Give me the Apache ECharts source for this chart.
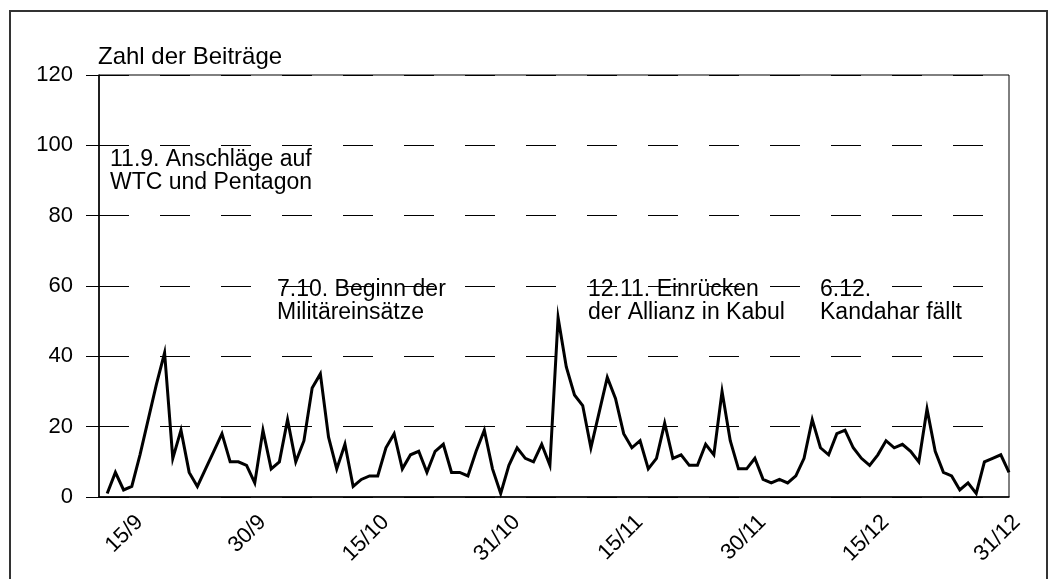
<!DOCTYPE html>
<html>
<head>
<meta charset="utf-8">
<script src="https://cdn.jsdelivr.net/npm/echarts@6/dist/echarts.min.js"></script>
<style>
html,body{margin:0;padding:0;background:#fff;}
#chart{width:1054px;height:579px;}
</style>
</head>
<body>
<div id="chart"></div>
<script>
// Days from 11/9 to 31/12
const categories = [
  '11/9','12/9','13/9','14/9','15/9','16/9','17/9','18/9','19/9','20/9','21/9','22/9','23/9','24/9','25/9','26/9','27/9','28/9','29/9','30/9',
  '1/10','2/10','3/10','4/10','5/10','6/10','7/10','8/10','9/10','10/10','11/10','12/10','13/10','14/10','15/10','16/10','17/10','18/10','19/10','20/10',
  '21/10','22/10','23/10','24/10','25/10','26/10','27/10','28/10','29/10','30/10','31/10',
  '1/11','2/11','3/11','4/11','5/11','6/11','7/11','8/11','9/11','10/11','11/11','12/11','13/11','14/11','15/11','16/11','17/11','18/11','19/11','20/11',
  '21/11','22/11','23/11','24/11','25/11','26/11','27/11','28/11','29/11','30/11',
  '1/12','2/12','3/12','4/12','5/12','6/12','7/12','8/12','9/12','10/12','11/12','12/12','13/12','14/12','15/12','16/12','17/12','18/12','19/12','20/12',
  '21/12','22/12','23/12','24/12','25/12','26/12','27/12','28/12','29/12','30/12','31/12'
];
const beitraege = [
  null, 1, 7, 2, 3, 12, 22, 32, 41, 11, 19, 7, 3, 8, 13, 18, 10, 10, 9, 4,
  19, 8, 10, 22, 10, 16, 31, 35, 17, 8, 15, 3, 5, 6, 6, 14, 18, 8, 12, 13,
  7, 13, 15, 7, 7, 6, 13, 19, 8, 1, 9,
  14, 11, 10, 15, 9, 51, 37, 29, 26, 14, 24, 34, 28, 18, 14, 16, 8, 11, 21, 11,
  12, 9, 9, 15, 12, 30, 16, 8, 8, 11,
  5, 4, 5, 4, 6, 11, 22, 14, 12, 18, 19, 14, 11, 9, 12, 16, 14, 15, 13, 10,
  25, 13, 7, 6, 2, 4, 1, 10, 11, 12, 7
];
const tickLabels = ['15/9','30/9','15/10','31/10','15/11','30/11','15/12','31/12'];
const yTicks = [0, 20, 40, 60, 80, 100, 120];
const yTitle = 'Zahl der Beiträge';
const annotations = [
  '11.9. Anschläge auf\nWTC und Pentagon',
  '7.10. Beginn der\nMilitäreinsätze',
  '12.11. Einrücken\nder Allianz in Kabul',
  '6.12.\nKandahar fällt'
];

const FONT = '"Liberation Sans", Arial, sans-serif';
const chart = echarts.init(document.getElementById('chart'), null, {renderer: 'canvas'});
const annoPos = [[110, 148], [277, 278], [588, 278], [820, 278]];

const option = {
  animation: false,
  backgroundColor: '#fff',
  grid: {left: 99, right: 45, top: 75, bottom: 82, show: true, borderColor: '#000', borderWidth: 1, backgroundColor: 'transparent'},
  xAxis: {
    type: 'category',
    data: categories,
    boundaryGap: false,
    axisLine: {lineStyle: {color: '#000', width: 1.5}},
    axisTick: {show: false},
    axisLabel: {
      interval: function (idx, val) { return tickLabels.indexOf(val) >= 0; },
      rotate: 45,
      margin: 14,
      verticalAlign: 'top',
      color: '#000',
      fontSize: 22,
      fontFamily: FONT,
      hideOverlap: false
    },
    splitLine: {show: false}
  },
  yAxis: {
    type: 'value',
    min: yTicks[0],
    max: yTicks[yTicks.length - 1],
    interval: 20,
    axisLine: {show: true, lineStyle: {color: '#000', width: 1.5}},
    axisTick: {show: true, inside: false, length: 13, lineStyle: {color: '#000', width: 1}},
    axisLabel: {color: '#000', fontSize: 22, fontFamily: FONT, margin: 26},
    splitLine: {show: true, lineStyle: {color: '#000', width: 1, type: [30, 31]}}
  },
  series: [{
    type: 'line',
    data: beitraege,
    showSymbol: false,
    symbol: 'none',
    connectNulls: false,
    lineStyle: {color: '#000', width: 3, join: 'miter'},
    z: 5
  }],
  graphic: [
    {type: 'rect', shape: {x: 10, y: 11, width: 1037, height: 640}, style: {fill: 'none', stroke: '#333', lineWidth: 2}, silent: true, z: 100},
    {type: 'text', x: 98, y: 57, style: {text: yTitle, font: '24px ' + FONT, fill: '#000', verticalAlign: 'middle', align: 'left'}, z: 100}
  ].concat(annotations.map(function (t, i) {
    return {type: 'text', x: annoPos[i][0], y: annoPos[i][1], style: {text: t, font: '23px ' + FONT, lineHeight: 23, fill: '#000', verticalAlign: 'top', align: 'left'}, z: 100};
  }))
};
chart.setOption(option);
</script>
</body>
</html>
